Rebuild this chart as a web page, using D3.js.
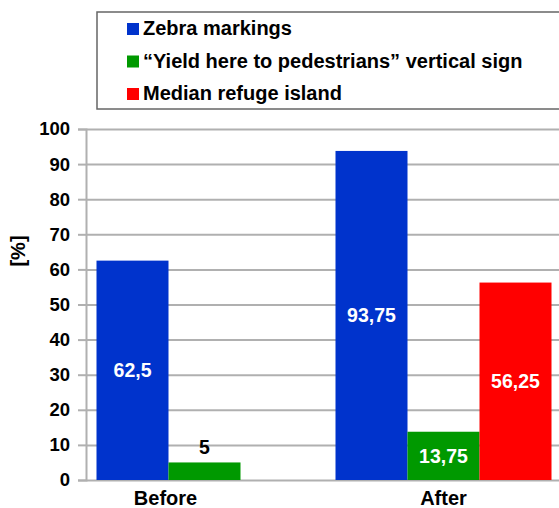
<!DOCTYPE html>
<html>
<head>
<meta charset="utf-8">
<script src="https://cdn.jsdelivr.net/npm/d3@7"></script>
<style>
  body { margin: 0; background: #fff; }
  text { font-family: "Liberation Sans", Arial, sans-serif; font-weight: bold; }
</style>
</head>
<body>
<div id="chart"></div>
<script>
// data
var categories = ['Before', 'After'];
var series = ['Zebra markings', '\u201cYield here to pedestrians\u201d vertical sign', 'Median refuge island'];
var colors = ['#0033cc', '#009900', '#ff0000'];
var before = [62.5, 5, null];
var after = [93.75, 13.75, 56.25];
var yTicks = [0, 10, 20, 30, 40, 50, 60, 70, 80, 90, 100];

var W = 559, H = 508;
var margin = { top: 129, right: 0, bottom: 28, left: 86 };
var barW = 72;

var svg = d3.select('#chart').append('svg').attr('width', W).attr('height', H);

var y = d3.scaleLinear().domain([0, 100]).range([H - margin.bottom, margin.top]);
var x0 = d3.scalePoint().domain(categories).range([margin.left, 526]).padding(0.3);

var fmt = function(v) { return String(v).replace('.', ','); };

// gridlines + ticks
var yAxis = d3.axisLeft(y).tickValues(yTicks).tickSize(8).tickPadding(8);
var gy = svg.append('g').attr('transform', 'translate(' + margin.left + ',0)').call(yAxis);
gy.select('.domain').attr('stroke', '#b0b0b0').attr('stroke-width', 2);
gy.selectAll('.tick line').attr('stroke', '#b0b0b0').attr('stroke-width', 2);
gy.selectAll('.tick text').attr('font-size', 18.5).attr('fill', '#000');
gy.selectAll('.tick').append('line')
  .attr('x1', 0).attr('x2', W - margin.left)
  .attr('stroke', '#b0b0b0').attr('stroke-width', 2);

var groups = [before, after];
categories.forEach(function(cat, ci) {
  var vals = groups[ci];
  var present = series.filter(function(s, i) { return vals[i] != null; });
  var x1 = d3.scaleBand().domain(present)
    .range([-present.length * barW / 2, present.length * barW / 2]);
  var g = svg.append('g').attr('transform', 'translate(' + x0(cat) + ',0)');
  series.forEach(function(s, si) {
    var v = vals[si];
    if (v == null) return;
    g.append('rect')
      .attr('x', x1(s)).attr('width', x1.bandwidth())
      .attr('y', y(v)).attr('height', y(0) - y(v))
      .attr('fill', colors[si]);
    var inside = y(0) - y(v) > 30;
    g.append('text')
      .attr('x', x1(s) + x1.bandwidth() / 2)
      .attr('y', inside ? (y(v) + y(0)) / 2 : y(v) - 8)
      .attr('dy', inside ? '0.35em' : 0)
      .attr('text-anchor', 'middle')
      .attr('font-size', 19.5)
      .attr('fill', inside ? '#fff' : '#000')
      .text(fmt(v));
  });
  svg.append('text')
    .attr('x', x0(cat) - (cat === 'Before' ? 3 : 0)).attr('y', 505)
    .attr('text-anchor', 'middle').attr('font-size', 20)
    .text(cat);
});

// y title
svg.append('text')
  .attr('transform', 'translate(25,251) rotate(-90)')
  .attr('text-anchor', 'middle').attr('font-size', 20)
  .text('[%]');

// legend
var leg = svg.append('g');
leg.append('rect').attr('x', 97).attr('y', 12).attr('width', 470).attr('height', 97)
  .attr('fill', '#fff').attr('stroke', '#666').attr('stroke-width', 1.5);
series.forEach(function(s, i) {
  var row = leg.append('g').attr('transform', 'translate(127,' + (35 + i * 32.5) + ')');
  row.append('rect').attr('x', 0).attr('y', -12).attr('width', 12).attr('height', 12).attr('fill', colors[i]);
  row.append('text').attr('x', 16).attr('y', 0).attr('font-size', 20).text(s);
});
</script>
</body>
</html>
